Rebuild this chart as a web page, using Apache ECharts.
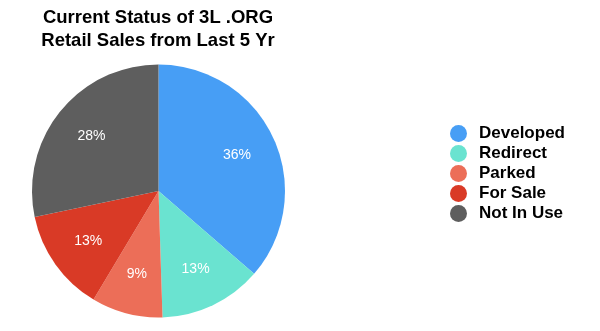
<!DOCTYPE html>
<html>
<head>
<meta charset="utf-8">
<script src="https://cdn.jsdelivr.net/npm/echarts@6/dist/echarts.min.js"></script>
<style>
  html, body { margin: 0; padding: 0; background: #ffffff; }
  #chart { width: 600px; height: 331px; }
</style>
</head>
<body>
<div id="chart"></div>
<script>
// Status breakdown of 3-letter .ORG domains sold at retail over the last five years
const categories = ['Developed', 'Redirect', 'Parked', 'For Sale', 'Not In Use'];
const shares = [36, 13, 9, 13, 28];
const sliceColors = ['#479ef5', '#6ae3d0', '#ec6e58', '#d93a26', '#5e5e5e'];

const FONT = '"Liberation Sans", Helvetica, Arial, sans-serif';

const pieData = categories.map((name, i) => ({
  name,
  value: shares[i],
  itemStyle: { color: sliceColors[i] }
}));

const chart = echarts.init(document.getElementById('chart'), null, { renderer: 'canvas' });

chart.setOption({
  backgroundColor: '#ffffff',
  animation: false,
  title: {
    text: 'Current Status of 3L .ORG\nRetail Sales from Last 5 Yr',
    left: 158,
    top: 6,
    padding: 0,
    textAlign: 'center',
    textStyle: {
      fontFamily: FONT,
      fontWeight: 'bold',
      fontSize: 18.5,
      lineHeight: 23,
      color: '#000000'
    }
  },
  legend: {
    orient: 'vertical',
    left: 450,
    top: 125,
    padding: 0,
    icon: 'circle',
    itemWidth: 17,
    itemHeight: 17,
    itemGap: 3,
    data: categories,
    textStyle: {
      fontFamily: FONT,
      fontWeight: 'bold',
      fontSize: 17,
      color: '#000000',
      padding: [0, 0, 0, 7]
    }
  },
  series: [
    {
      // visible slices
      type: 'pie',
      center: [158.5, 191],
      radius: [0, 126.5],
      startAngle: 90,
      clockwise: true,
      label: { show: false },
      labelLine: { show: false },
      itemStyle: { borderWidth: 0 },
      emphasis: { disabled: true },
      data: pieData
    },
    {
      // transparent ring that carries the percentage labels
      type: 'pie',
      center: [158.5, 191],
      radius: [40, 126.5],
      startAngle: 90,
      clockwise: true,
      silent: true,
      legendHoverLink: false,
      itemStyle: { color: 'rgba(0,0,0,0)', borderWidth: 0 },
      emphasis: { disabled: true },
      labelLine: { show: false },
      label: {
        show: true,
        position: 'inside',
        formatter: p => p.value + '%',
        fontFamily: FONT,
        fontSize: 14,
        color: '#ffffff'
      },
      data: categories.map((name, i) => ({ name, value: shares[i] }))
    }
  ]
});
</script>
</body>
</html>
